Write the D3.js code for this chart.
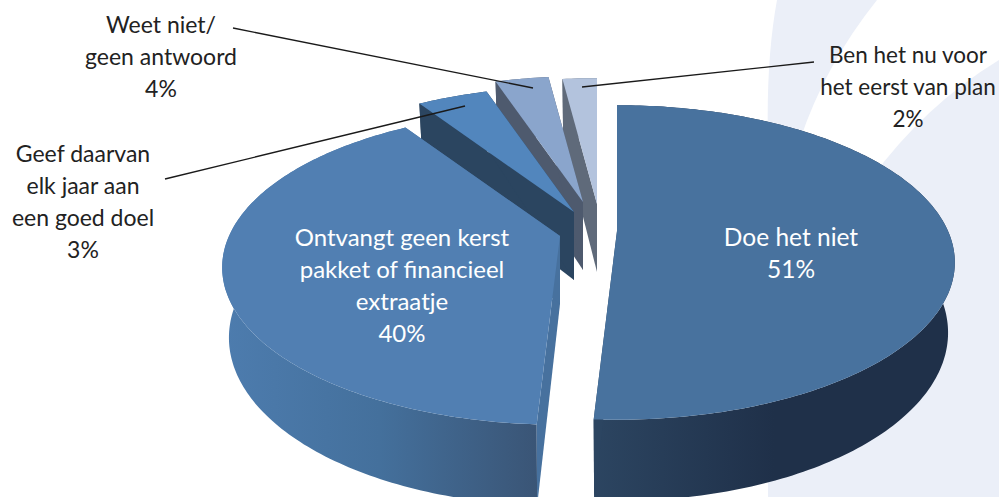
<!DOCTYPE html>
<html>
<head>
<meta charset="utf-8">
<script src="https://cdn.jsdelivr.net/npm/d3@7"></script>
<style>
  html, body { margin: 0; padding: 0; background: #fff; overflow: hidden; }
  svg { display: block; }
  text { font-family: Lato, "Open Sans", sans-serif; text-anchor: middle; }
</style>
</head>
<body>
<div id="chart"></div>
<script>
// Chart data, in pie order (clockwise from the top)
const categories = [
    ['Doe het niet'],
    ['Ontvangt geen kerst', 'pakket of financieel', 'extraatje'],
    ['Geef daarvan', 'elk jaar aan', 'een goed doel'],
    ['Weet niet/', 'geen antwoord'],
    ['Ben het nu voor', 'het eerst van plan']
];
const percentages = [51, 40, 3, 4, 2];
// Wedge sizes as they are actually drawn in the picture (the two small ones look swapped)
const drawnShares = [51, 40, 4.1, 3.1, 2];

// Layout per slice
const centres = [[617, 231], [560, 236], [574, 212], [583, 202], [597, 204]];
const labelPos = [[791, 246], [402, 246], [83, 162], [161, 33], [908, 63]];
const labelSize = [24.5, 24, 23, 23, 22.5];
const labelColor = ['#fff', '#fff', '#222', '#222', '#222'];
const topColor = ['#48729e', '#517fb2', '#5286bd', '#8aa5cc', '#b3c3dd'];
const cutColor = ['#2c4561', '#47719e', '#2b4560', '#4e5a6e', '#5f6a7a'];
const wallStops = [
    ['#2c4561', '#1f3049', '#1f3049'],
    ['#4d7cae', '#44709c', '#3a5576'],
    ['#2b4560', '#2b4560', '#2b4560'],
    ['#4e5a6e', '#4e5a6e', '#4e5a6e'],
    ['#5f6a7a', '#5f6a7a', '#5f6a7a']
];
const leaders = [
    null,
    null,
    [[165, 179], [465, 106]],
    [[233, 28], [533, 88]],
    [[814, 62], [582, 87]]
];

const width = 999, height = 497;
const rx = 331, ry = 151, depth = 68, perspective = 0.2;
// The underside of the pie is drawn a little smaller than the top
const baseTaper = 0.98;

const svg = d3.select('#chart').append('svg')
    .attr('width', width)
    .attr('height', height)
    .attr('viewBox', `0 0 ${width} ${height}`);

// Pale background shape with the white swoosh cut out of it
svg.append('rect')
    .attr('x', 0).attr('y', 0).attr('width', width).attr('height', height)
    .attr('fill', '#fff');
const bg = d3.path();
bg.moveTo(777, 0);
bg.quadraticCurveTo(766, 60, 768, 140);
bg.lineTo(768, height);
bg.lineTo(width, height);
bg.lineTo(width, 0);
bg.closePath();
svg.append('path').attr('d', bg.toString()).attr('fill', '#ebeff8');
const swoosh = d3.path();
swoosh.moveTo(877, 0);
swoosh.quadraticCurveTo(825, 65, 800, 140);
swoosh.lineTo(870, 180);
swoosh.quadraticCurveTo(925, 105, width, 60);
swoosh.lineTo(width, 0);
swoosh.closePath();
svg.append('path').attr('d', swoosh.toString()).attr('fill', '#fff');

// Pie layout, no sorting so the slices stay in order
const pie = d3.pie().sort(null).value(d => d);
const arcs = pie(drawnShares);

const defs = svg.append('defs');
const line = d3.line();

// Perspective projection of a point on the disc (r, angle) at height level z (0 top, 1 bottom)
function project(i, r, angle, z) {
    const v = -Math.cos(angle) * r;
    const f = 1 / (1 - perspective * v);
    const c = centres[i];
    const taper = z ? baseTaper : 1;
    return [
        c[0] + rx * Math.sin(angle) * r * f * taper,
        c[1] + ry * v * f * taper + depth * f * z
    ];
}

function rim(i, a0, a1, z) {
    const n = Math.max(4, Math.ceil((a1 - a0) * 60));
    return d3.range(n + 1).map(k => project(i, 1, a0 + (a1 - a0) * k / n, z));
}

// Paint back to front: smallest wedges at the back, the big two last
const paintOrder = [4, 3, 2, 1, 0];

paintOrder.forEach(i => {
    const a = arcs[i];
    const g = svg.append('g').attr('class', 'slice');

    // Outer wall with a horizontal gradient
    const rimTop = rim(i, a.startAngle, a.endAngle, 0);
    const rimBottom = rim(i, a.startAngle, a.endAngle, 1);
    const xs = d3.extent(rimTop, p => p[0]);
    const grad = defs.append('linearGradient')
        .attr('id', 'wall' + i)
        .attr('gradientUnits', 'userSpaceOnUse')
        .attr('x1', xs[0]).attr('x2', xs[1])
        .attr('y1', 0).attr('y2', 0);
    wallStops[i].forEach((col, k) => {
        grad.append('stop').attr('offset', k / 2).attr('stop-color', col);
    });
    g.append('path')
        .attr('d', line(rimTop.concat(rimBottom.slice().reverse())) + 'Z')
        .attr('fill', `url(#wall${i})`);

    // Two cut faces
    [a.startAngle, a.endAngle].forEach(angle => {
        const quad = [
            project(i, 0, angle, 0),
            project(i, 1, angle, 0),
            project(i, 1, angle, 1),
            project(i, 0, angle, 1)
        ];
        g.append('path')
            .attr('d', line(quad) + 'Z')
            .attr('fill', cutColor[i]);
    });

    // Top surface
    g.append('path')
        .attr('d', line([project(i, 0, 0, 0)].concat(rimTop)) + 'Z')
        .attr('fill', topColor[i]);
});

// Leader lines
svg.selectAll('.leader')
    .data(leaders.filter(d => d))
    .enter()
    .append('path')
    .attr('class', 'leader')
    .attr('d', d => line(d))
    .attr('fill', 'none')
    .attr('stroke', '#1a1a1a')
    .attr('stroke-width', 1.4);

// Labels, real text with the percentage on the last line
const lineHeight = 32;
categories.forEach((lines, i) => {
    const label = svg.append('text')
        .attr('x', labelPos[i][0])
        .attr('y', labelPos[i][1])
        .attr('font-size', labelSize[i])
        .attr('fill', labelColor[i]);
    lines.concat(percentages[i] + '%').forEach((t, k) => {
        label.append('tspan')
            .attr('x', labelPos[i][0])
            .attr('y', labelPos[i][1] + k * lineHeight)
            .text(t);
    });
});
</script>
</body>
</html>
